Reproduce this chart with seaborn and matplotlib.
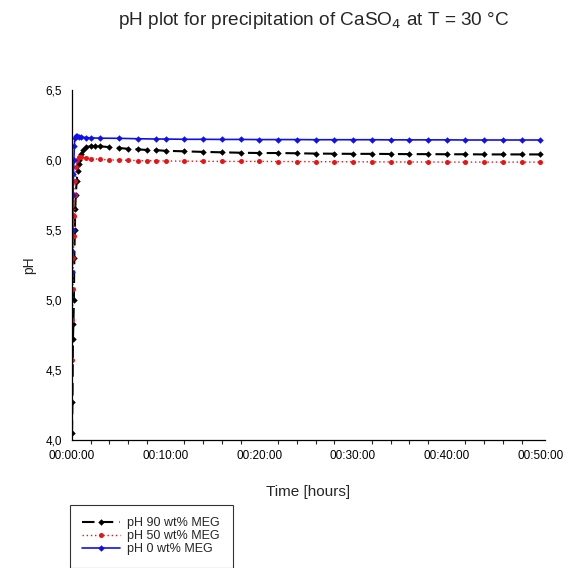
import matplotlib
matplotlib.use("Agg")
import matplotlib.pyplot as plt
import seaborn as sns
import pandas as pd
from matplotlib.ticker import FuncFormatter, MultipleLocator

# ---- data (time in minutes) ----
t_90 = [0, 0.05, 0.1, 0.15, 0.2, 0.25, 0.3, 0.35, 0.4, 0.5, 0.6, 0.7, 0.8, 1.0, 1.2,
        1.5, 2.0, 2.5, 3, 4, 5, 6, 7, 8, 9, 10, 12, 14, 16, 18, 20, 22, 24, 26, 28,
        30, 32, 34, 36, 38, 40, 42, 44, 46, 48, 50]
ph_90 = [4.05, 4.27, 4.72, 4.83, 5.0, 5.3, 5.5, 5.65, 5.75, 5.85, 5.92, 5.97, 6.0,
         6.04, 6.07, 6.09, 6.10, 6.10, 6.098, 6.092, 6.086, 6.08, 6.076, 6.072, 6.07,
         6.066, 6.062, 6.058, 6.055, 6.052, 6.05, 6.05, 6.048, 6.046, 6.045, 6.044,
         6.044, 6.043, 6.042, 6.042, 6.041, 6.041, 6.04, 6.04, 6.04, 6.04]

t_50 = [0.02, 0.05, 0.1, 0.15, 0.2, 0.25, 0.3, 0.35, 0.45, 0.55, 0.7, 1.0, 1.5, 2.0,
        3, 4, 5, 6, 7, 8, 9, 10, 12, 14, 16, 18, 20, 22, 24, 26, 28, 30, 32, 34, 36,
        38, 40, 42, 44, 46, 48, 50]
ph_50 = [4.57, 4.86, 5.08, 5.3, 5.46, 5.6, 5.75, 5.85, 5.95, 6.0, 6.02, 6.02, 6.015,
         6.01, 6.005, 6.0, 6.0, 5.998, 5.996, 5.995, 5.994, 5.993, 5.992, 5.991, 5.99,
         5.99, 5.99, 5.989, 5.989, 5.988, 5.988, 5.987, 5.987, 5.986, 5.986, 5.986,
         5.985, 5.985, 5.985, 5.985, 5.985, 5.985]

t_0 = [0.02, 0.05, 0.08, 0.12, 0.16, 0.2, 0.25, 0.3, 0.4, 0.5, 0.7, 1.0, 1.5, 2.0, 3,
       5, 7, 9, 10, 12, 14, 16, 18, 20, 22, 24, 26, 28, 30, 32, 34, 36, 38, 40, 42,
       44, 46, 48, 50]
ph_0 = [5.2, 5.35, 5.5, 5.75, 5.9, 6.0, 6.1, 6.16, 6.17, 6.17, 6.168, 6.165, 6.16,
        6.158, 6.156, 6.155, 6.152, 6.15, 6.15, 6.148, 6.148, 6.147, 6.147, 6.146,
        6.146, 6.146, 6.145, 6.145, 6.145, 6.145, 6.144, 6.144, 6.144, 6.144, 6.143,
        6.143, 6.143, 6.143, 6.143]

labels = ["pH 90 wt% MEG", "pH 50 wt% MEG", "pH 0 wt% MEG"]
x_ticks = [0, 10, 20, 30, 40, 50]
y_ticks = [4.0, 4.5, 5.0, 5.5, 6.0, 6.5]

df = pd.concat([
    pd.DataFrame({"t": t_90, "pH": ph_90, "s": labels[0]}),
    pd.DataFrame({"t": t_50, "pH": ph_50, "s": labels[1]}),
    pd.DataFrame({"t": t_0, "pH": ph_0, "s": labels[2]}),
])

sns.set_style("white")
plt.rcParams["font.family"] = ["Liberation Sans", "DejaVu Sans"]

fig = plt.figure(figsize=(5.83, 5.68), dpi=100)
ax = fig.add_axes([0.1235, 0.2254, 0.8115, 0.6161])

styles = {
    labels[0]: dict(color="black", ls=(0, (6, 3)), marker="D", ms=3.3, lw=1.5),
    labels[1]: dict(color="#ee1111", ls=(0, (1, 2)), marker="o", ms=3.6, lw=1.0),
    labels[2]: dict(color="#1010ee", ls="-", marker="D", ms=3.3, lw=1.2),
}
for lab in labels:
    st = styles[lab]
    sub = df[df["s"] == lab]
    sns.lineplot(data=sub, x="t", y="pH", ax=ax, color=st["color"], linestyle=st["ls"],
                 marker=st["marker"], markersize=st["ms"], linewidth=st["lw"],
                 markeredgewidth=0, label=lab, sort=False, estimator=None)

ax.set_xlim(0, 50.5)
ax.set_ylim(4.0, 6.5)
ax.set_xticks(x_ticks)
ax.set_yticks(y_ticks)
ax.xaxis.set_minor_locator(MultipleLocator(2))
ax.xaxis.set_major_formatter(FuncFormatter(lambda v, p: "00:%02d:00" % int(round(v))))
ax.yaxis.set_major_formatter(FuncFormatter(lambda v, p: ("%.1f" % v).replace(".", ",")))
ax.tick_params(axis="both", which="major", direction="out", length=4, width=0.8,
               labelsize=8.5, colors="black", pad=3)
ax.tick_params(axis="x", which="minor", direction="out", length=3, width=0.8, bottom=True)
for s in ["top", "right"]:
    ax.spines[s].set_visible(False)
for s in ["left", "bottom"]:
    ax.spines[s].set_color("black")
    ax.spines[s].set_linewidth(0.9)

ax.set_xlabel("Time [hours]", fontsize=11, labelpad=17)
ax.set_ylabel("pH", fontsize=10, labelpad=7)

fig.text(0.538, 0.964, r"pH plot for precipitation of CaSO$_4$ at T = 30 °C",
         ha="center", va="center", fontsize=13.7)

leg = ax.legend(loc="upper left", bbox_to_anchor=(0.12, 0.111),
                bbox_transform=fig.transFigure, fontsize=9, frameon=True,
                fancybox=False, edgecolor="black", handlelength=3.0, numpoints=1,
                handletextpad=0.6, labelspacing=0.08, borderpad=1.0, borderaxespad=0)
leg.get_frame().set_linewidth(0.8)

fig.savefig("out.png", dpi=100)
